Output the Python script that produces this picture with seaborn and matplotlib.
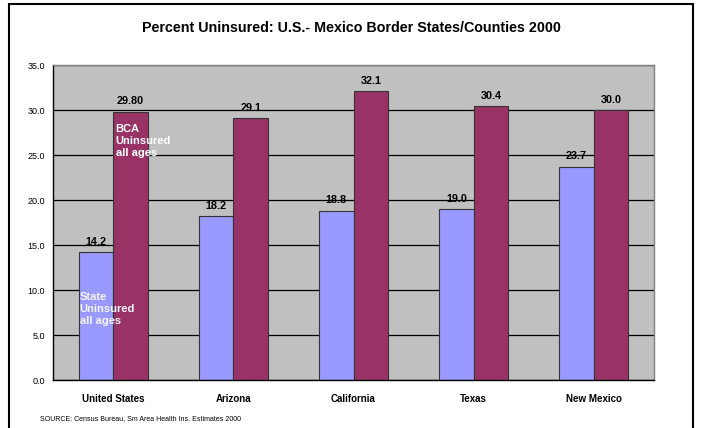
import matplotlib
matplotlib.use("Agg")
import matplotlib.pyplot as plt
from matplotlib.patches import Rectangle
import pandas as pd
import seaborn as sns

places = ["United States", "Arizona", "California", "Texas", "New Mexico"]
state_pct = [14.2, 18.2, 18.8, 19.0, 23.7]
bca_pct = [29.80, 29.1, 32.1, 30.4, 30.0]
state_labels = ["14.2", "18.2", "18.8", "19.0", "23.7"]
bca_labels = ["29.80", "29.1", "32.1", "30.4", "30.0"]
series_names = ["State Uninsured all ages", "BCA Uninsured all ages"]
y_ticks = [0, 5, 10, 15, 20, 25, 30, 35]

df = pd.DataFrame({
    "place": places * 2,
    "pct": state_pct + bca_pct,
    "series": [series_names[0]] * len(places) + [series_names[1]] * len(places),
})

sns.set_style("white")
plt.rcParams["font.family"] = ["Liberation Sans", "DejaVu Sans"]
plt.rcParams["text.color"] = "black"
plt.rcParams["xtick.color"] = "black"
plt.rcParams["ytick.color"] = "black"

fig = plt.figure(figsize=(7.02, 4.28), dpi=100)
ax = fig.add_axes([53 / 702, 0.1121, 601 / 702, 0.736])
ax.set_facecolor("#C0C0C0")

sns.barplot(data=df, x="place", y="pct", hue="series", ax=ax,
            palette=["#9999FF", "#993366"], width=0.575, saturation=1,
            edgecolor="#333333", linewidth=0.8, legend=False)

ax.set_ylim(0, 35)
ax.set_xlim(-0.5, len(places) - 0.5)
ax.set_yticks(y_ticks)
ax.set_yticklabels([f"{v:.1f}" for v in y_ticks], fontsize=6.5)
ax.yaxis.grid(True, color="black", linewidth=0.9)
ax.set_axisbelow(True)
ax.set_xlabel("")
ax.set_ylabel("")
ax.set_xticks(range(len(places)))
ax.set_xticklabels(places, fontsize=7, fontweight="bold")
ax.tick_params(axis="x", length=0, pad=10)
ax.set_xticks([i - 0.5 for i in range(len(places) + 1)], minor=True)
ax.tick_params(axis="x", which="minor", length=4, direction="out", color="black")
ax.tick_params(axis="y", length=4, direction="out", color="black", pad=2)

for side in ["top", "right"]:
    ax.spines[side].set_color("#808080")
    ax.spines[side].set_linewidth(1)
for side in ["left", "bottom"]:
    ax.spines[side].set_color("black")
    ax.spines[side].set_linewidth(1)

# value labels
bw = 0.575 / 2
for i in range(len(places)):
    ax.text(i - bw / 2, state_pct[i] + 0.6, state_labels[i], ha="center", va="bottom",
            fontsize=7.8, fontweight="bold")
    ax.text(i + bw / 2, bca_pct[i] + 0.6, bca_labels[i], ha="center", va="bottom",
            fontsize=7.8, fontweight="bold")

# series labels inside the first group
ax.text(0 - bw + 0.01, 9.8, "State\nUninsured\nall ages", ha="left", va="top",
        fontsize=8, fontweight="bold", color="#F4F4FF", linespacing=1.25)
ax.text(0 + 0.02, 28.5, "BCA\nUninsured\nall ages", ha="left", va="top",
        fontsize=8, fontweight="bold", color="white", linespacing=1.25)

fig.text(0.5, 0.935, "Percent Uninsured: U.S.- Mexico Border States/Counties 2000",
         ha="center", va="center", fontsize=10.3, fontweight="bold")
fig.text(0.057, 0.022, "SOURCE: Census Bureau, Sm Area Health Ins. Estimates 2000",
         ha="left", va="center", fontsize=5)

fig.patches.append(Rectangle((9 / 702, -0.05), 684 / 702, 1.05 - 4 / 428,
                             transform=fig.transFigure, fill=False,
                             edgecolor="black", linewidth=1.5))

fig.savefig("out.png", dpi=100)
